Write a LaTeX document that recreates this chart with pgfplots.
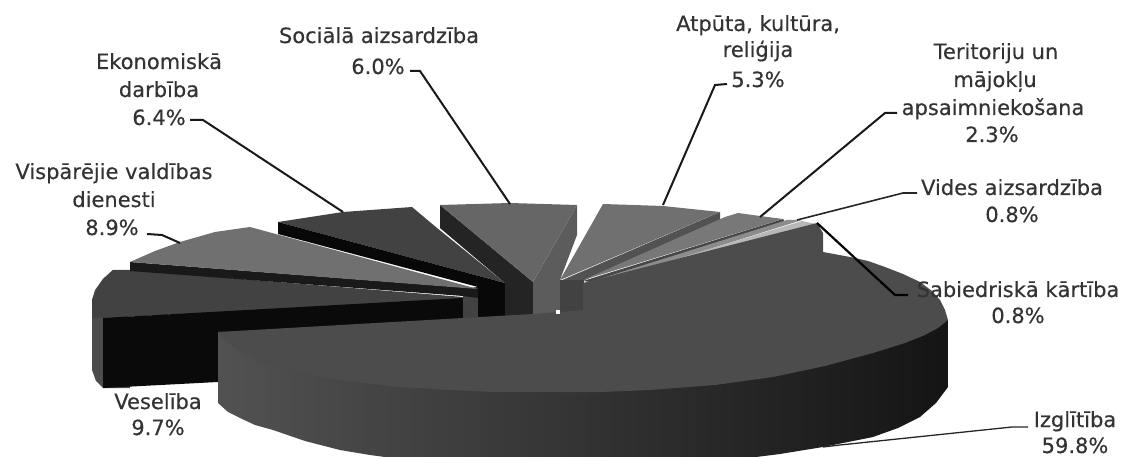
\documentclass[border=0pt]{standalone}
\usepackage{fontspec}
\setmainfont{DejaVu Sans}
\newfontfamily\lblfont[FakeBold=0.35]{DejaVu Sans}
\usepackage{pgfplots}
\pgfplotsset{compat=1.18}

\newcommand{\lbl}[3]{\node[anchor=base,inner sep=0pt,text=black!80] at (axis cs:#1,#2) {#3};}

\begin{document}
\begin{tikzpicture}
\begin{axis}[
  scale only axis, width=1128pt, height=457pt,
  xmin=0, xmax=1128, ymin=0, ymax=457,
  y dir=reverse, hide axis,
  font=\lblfont\fontsize{21}{25}\selectfont,
]
% hide axis drops the axis box from the bounding box, so keep it
\path[use as bounding box] (axis cs:0,0) rectangle (axis cs:1128,457);
% Veseliba
\addplot[fill=black!70,draw=none] coordinates {(113,270) (103,279) (95,290) (92,300) (92,370) (96,381) (103,388) (130,388) (130,318)} -- cycle;
\addplot[fill=black!74,draw=none] coordinates {(95,293) (103,279) (113,270) (130,270) (463,297) (463,300) (103,318) (92,318) (92,300)} -- cycle;
\addplot[fill=black!96,draw=none] coordinates {(103,318) (463,298) (463,320) (218,340) (218,382) (103,388)} -- cycle;
\addplot[fill=black!74,draw=none] coordinates {(463,296) (480,296) (480,320) (463,320)} -- cycle;
% Visparejie valdibas dienesti
\addplot[fill=black!90,draw=none] coordinates {(130,262) (130,271) (463,296) (478,298) (478,287) (470,288)} -- cycle;
\addplot[fill=black!56,draw=none] coordinates {(130,262) (155,251) (180,242) (215,232) (250,227) (478,289)} -- cycle;
% Ekonomiska darbiba
\addplot[fill=black!74,draw=none] coordinates {(278,222) (343,212) (412,207) (437,228) (505,283)} -- cycle;
\addplot[fill=black!97,draw=none] coordinates {(278,222) (278,234) (478,287) (478,320) (507,320) (505,283)} -- cycle;
% Sociala aizsardziba
\addplot[fill=black!86,draw=none] coordinates {(440,205) (440,228) (505,283) (505,320) (533,320) (533,282)} -- cycle;
\addplot[fill=black!64,draw=none] coordinates {(577,205) (577,235) (560,280) (560,320) (533,320) (533,282)} -- cycle;
\addplot[fill=black!60,draw=none] coordinates {(440,205) (510,203) (577,205) (533,282)} -- cycle;
% Atputa, kultura, religija
\addplot[fill=black!68,draw=none] coordinates {(720,212) (720,220) (585,280) (560,281)} -- cycle;
\addplot[fill=black!56,draw=none] coordinates {(603,204) (663,206) (720,212) (560,280)} -- cycle;
% apex blocks on the right
\addplot[fill=black!74,draw=none] coordinates {(560,280) (584,280) (584,320) (560,320)} -- cycle;
% Teritoriju un majoklu apsaimniekosana
\addplot[fill=black!72,draw=none] coordinates {(783,219) (785,222) (590,282) (583,281)} -- cycle;
\addplot[fill=black!53,draw=none] coordinates {(725,217) (738,213) (760,216) (783,219) (583,280)} -- cycle;
% Vides aizsardziba
\addplot[fill=black!45,draw=none] coordinates {(787,220) (802,220) (602,283) (590,282)} -- cycle;
% Sabiedriska kartiba
\addplot[fill=black!28,draw=none] coordinates {(802,221) (816,224) (606,282) (597,283)} -- cycle;
% Izglitiba, outer side
\addplot[draw=none,left color=black!68,middle color=black!84,right color=black!92] coordinates {
  (218,332) (218,403) (228,412) (240,418) (255,425) (273,430) (305,441) (340,450) (370,455) (400,459) (740,459)
  (780,454) (823,447) (873,437) (898,428) (920,417) (936,403) (948,387) (948,320)} -- cycle;
% Izglitiba, top
\addplot[fill=black!70,draw=none] coordinates {
  (218,332) (533,314) (560,312) (583,310) (583,283) (817,223) (823,233) (823,252) (850,257) (868,261) (885,267) (903,274) (920,282)
  (932,291) (940,300) (945,310) (948,320) (938,328) (925,335) (905,343) (873,353) (825,366) (773,377) (715,385) (650,390) (600,392)
  (540,392) (495,392) (450,390) (400,387) (357,382) (322,377) (290,371) (262,362) (240,352) (225,340)} -- cycle;
\addplot[fill=white,draw=none] coordinates {(556,310) (560,310) (560,314) (556,314)} -- cycle;
% leader lines
\addplot[black!90,line width=2pt] coordinates {(410,71) (420,71) (510,204)};
\addplot[black!90,line width=2pt] coordinates {(190,120) (203,120) (343,212)};
\addplot[black!90,line width=2pt] coordinates {(147,234) (162,235) (180,243)};
\addplot[black!90,line width=2pt] coordinates {(727,84) (715,85) (663,205)};
\addplot[black!90,line width=2pt] coordinates {(897,113) (885,113) (760,217)};
\addplot[black!85,line width=1.6pt] coordinates {(917,193) (903,193) (797,220)};
\addplot[black,line width=2.2pt] coordinates {(908,295) (895,295) (817,223)};
\addplot[black!85,line width=1.3pt] coordinates {(1028,427) (1012,427) (840,445) (823,447)};
% labels
\lbl{159}{69}{Ekonomiskā}
\lbl{159}{97}{darbība}
\lbl{159}{125}{6.4\%}
\lbl{379}{43}{Sociālā aizsardzība}
\lbl{378}{74}{6.0\%}
\lbl{114}{179}{Vispārējie valdības}
\lbl{114}{207}{dienesti}
\lbl{112}{235}{8.9\%}
\lbl{758}{31}{Atpūta, kultūra,}
\lbl{758}{57}{reliģija}
\lbl{758}{87}{5.3\%}
\lbl{996}{59}{Teritoriju un}
\lbl{995}{87}{mājokļu}
\lbl{993}{115}{apsaimniekošana}
\lbl{992}{142}{2.3\%}
\lbl{1012}{195}{Vides aizsardzība}
\lbl{1012}{222}{0.8\%}
\lbl{1018}{297}{Sabiedriskā kārtība}
\lbl{1018}{323}{0.8\%}
\lbl{158}{409}{Veselība}
\lbl{158}{435}{9.7\%}
\lbl{1075}{427}{Izglītība}
\lbl{1075}{453}{59.8\%}
\end{axis}
\end{tikzpicture}
\end{document}
